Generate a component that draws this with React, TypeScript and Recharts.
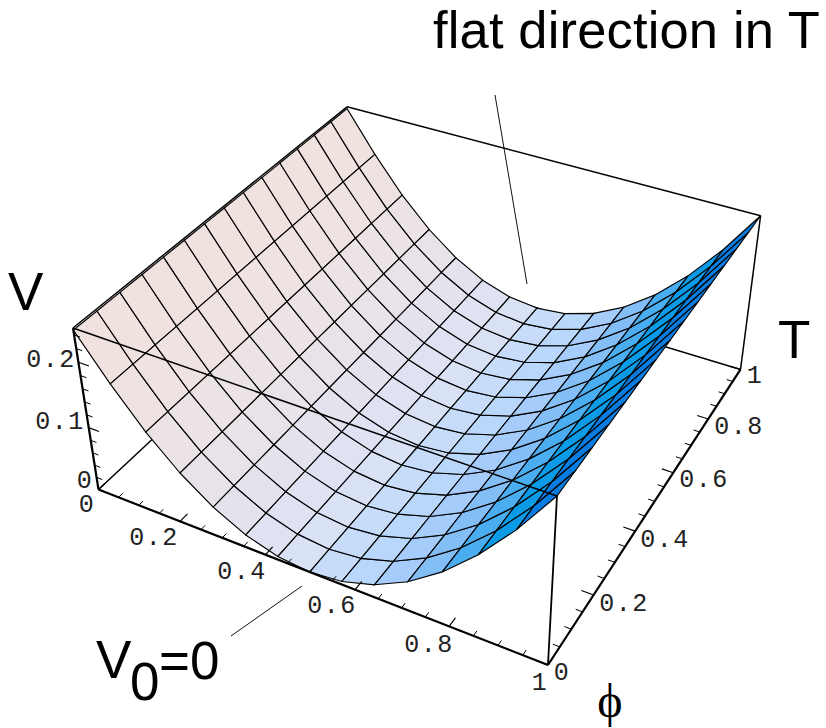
import { ScatterChart, Scatter, XAxis, YAxis } from "recharts";

const phiGrid = [0, 0.0714, 0.1429, 0.2143, 0.2857, 0.3571, 0.4286, 0.5, 0.5714, 0.6429, 0.7143, 0.7857, 0.8571, 0.9286, 1];
const tGrid = [0, 0.0714, 0.1429, 0.2143, 0.2857, 0.3571, 0.4286, 0.5, 0.5714, 0.6429, 0.7143, 0.7857, 0.8571, 0.9286, 1];
// V along phi, the same for every T
const vProfile = [0.247, 0.1837, 0.1276, 0.0816, 0.0459, 0.0204, 0.0051, 0, 0.0051, 0.0204, 0.0459, 0.0816, 0.1276, 0.1837, 0.25];
const columnColors = [
  "#f0e2df", "#eee3e1", "#ebe3e4", "#e8e3e9", "#e4e3ed", "#dfe2f2", "#d9e1f5",
  "#c6dcf8", "#b9d7fa", "#a5ccfa", "#84bef6", "#4aadf0", "#0a9ae6", "#087ce0",
];

const minorTicks = [0.05, 0.1, 0.15, 0.25, 0.3, 0.35, 0.45, 0.5, 0.55, 0.65, 0.7, 0.75, 0.85, 0.9, 0.95];
const majorTicks = [0, 0.2, 0.4, 0.6, 0.8, 1];
const vMinorTicks = [0.02, 0.04, 0.06, 0.08, 0.12, 0.14, 0.16, 0.18, 0.22, 0.24];
const vMajorTicks = [0, 0.1, 0.2];
const phiTickLabels = ["0", "0.2", "0.4", "0.6", "0.8", "1"];
const tTickLabels = ["0", "0.2", "0.4", "0.6", "0.8", "1"];
const vTickLabels = ["0", "0.1", "0.2"];

const V_MAX = 0.25;

// where the tick labels sit on the page (centre x, baseline y)
const phiLabelSpots = [[87, 512], [154, 545], [242, 579], [332, 613], [429, 652], [540, 690]];
const tLabelSpots = [[562, 680], [624, 611], [665, 547], [704, 487], [739, 434], [755, 383]];
const vLabelSpots = [[85, 488], [60, 429], [51, 367]];

// perspective of the box, fitted to its corners in the picture
const project = (phi: number, t: number, v: number) => {
  const w = v / V_MAX;
  const d = 1 - 0.1131 * phi + 0.2142 * t - 0.0692 * w;
  return {
    x: (98.5 + 387.5 * phi + 329.4 * t - 30.55 * w) / d,
    y: (489.5 + 100.3 * phi - 183 * t - 184.2 * w) / d,
  };
};

const noPoint = () => <g />;

const Segment = (
  key: string,
  from: number[],
  to: number[],
  width: number,
) => (
  <Scatter
    key={key}
    data={[project(from[0], from[1], from[2]), project(to[0], to[1], to[2])]}
    shape={noPoint}
    line={{ stroke: "#000", strokeWidth: width }}
    isAnimationActive={false}
  />
);

const cells: { key: string; color: string; corners: { x: number; y: number }[] }[] = [];
columnColors.forEach((color, i) => {
  for (let j = 0; j < tGrid.length - 1; j++) {
    cells.push({
      key: `cell-${i}-${j}`,
      color,
      corners: [
        project(phiGrid[i], tGrid[j], vProfile[i]),
        project(phiGrid[i + 1], tGrid[j], vProfile[i + 1]),
        project(phiGrid[i + 1], tGrid[j + 1], vProfile[i + 1]),
        project(phiGrid[i], tGrid[j + 1], vProfile[i]),
      ],
    });
  }
});

const toLabels = (labels: string[], spots: number[][]) =>
  labels.map((label, i) => ({ x: spots[i][0], y: spots[i][1], label }));

const tickLabels = [
  ...toLabels(phiTickLabels, phiLabelSpots),
  ...toLabels(tTickLabels, tLabelSpots),
  ...toLabels(vTickLabels, vLabelSpots),
];

const titleLabels = [
  { x: 8, y: 310, label: "V" },
  { x: 778, y: 358, label: "T" },
  { x: 96, y: 678, label: "V" },
  { x: 130, y: 700, label: "0" },
  { x: 159, y: 679, label: "=0" },
];

const TickLabel = (p: any) => (
  <text
    x={p.cx}
    y={p.cy}
    textAnchor="middle"
    fontFamily="'Liberation Mono', monospace"
    fontSize={25}
    letterSpacing={1.5}
    fill="#222"
  >
    {p.payload.label}
  </text>
);

const TitleLabel = (p: any) => (
  <text
    x={p.cx}
    y={p.cy}
    fontFamily="'Liberation Sans', sans-serif"
    fontSize={53}
    fill="#000"
  >
    {p.payload.label}
  </text>
);

const HeadLabel = (p: any) => (
  <text
    x={p.cx}
    y={p.cy}
    fontFamily="'Liberation Sans', sans-serif"
    fontSize={52.5}
    letterSpacing={0.15}
    fill="#000"
  >
    {p.payload.label}
  </text>
);

const PhiLabel = (p: any) => (
  <text
    x={p.cx}
    y={p.cy}
    textAnchor="middle"
    fontFamily="'Liberation Serif', serif"
    fontSize={48}
    fill="#000"
  >
    {p.payload.label}
  </text>
);

export default function App() {
  return (
    <div style={{ position: "absolute", left: 0, top: 0, width: 826, height: 728, background: "#fff" }}>
      <ScatterChart width={826} height={728} margin={{ top: 0, right: 0, bottom: 0, left: 0 }}>
        <XAxis type="number" dataKey="x" domain={[0, 826]} hide allowDataOverflow />
        <YAxis type="number" dataKey="y" domain={[0, 728]} reversed hide allowDataOverflow />

        {/* edges behind the surface */}
        {Segment("back-top", [0, 1, V_MAX], [1, 1, V_MAX], 1.5)}
        {Segment("back-right", [1, 1, 0], [1, 1, V_MAX], 1.5)}
        {Segment("floor-left", [0, 0, 0], [0, 1, 0], 1.5)}
        {Segment("floor-back", [0, 1, 0], [1, 1, 0], 1.5)}
        {Segment("top-left", [0, 0, V_MAX], [0, 1, V_MAX], 1.5)}

        {cells.map((c) => (
          <Scatter
            key={c.key}
            data={c.corners}
            shape={noPoint}
            line={{ fill: c.color, stroke: "#000", strokeWidth: 1.15 }}
            lineJointType="linearClosed"
            isAnimationActive={false}
          />
        ))}

        {/* edges and axes in front */}
        {Segment("top-front", [0, 0, V_MAX], [1, 0, V_MAX], 1.5)}
        {Segment("front-right", [1, 0, 0], [1, 0, V_MAX], 1.8)}
        {Segment("axis-v", [0, 0, 0], [0, 0, V_MAX], 2.2)}
        {Segment("axis-phi", [0, 0, 0], [1, 0, 0], 2.2)}
        {Segment("axis-t", [1, 0, 0], [1, 1, 0], 2.2)}

        {majorTicks.map((m) => Segment(`phi-major-${m}`, [m, 0, 0], [m, 0.025, 0], 1.2))}
        {minorTicks.map((m) => Segment(`phi-minor-${m}`, [m, 0, 0], [m, 0.014, 0], 1))}
        {majorTicks.map((m) => Segment(`t-major-${m}`, [1, m, 0], [0.975, m, 0], 1.2))}
        {minorTicks.map((m) => Segment(`t-minor-${m}`, [1, m, 0], [0.986, m, 0], 1))}
        {vMajorTicks.map((m) => Segment(`v-major-${m}`, [0, 0, m], [0.025, 0, m], 1.2))}
        {vMinorTicks.map((m) => Segment(`v-minor-${m}`, [0, 0, m], [0.014, 0, m], 1))}

        {/* leader lines */}
        <Scatter
          data={[{ x: 495, y: 95 }, { x: 527, y: 284 }]}
          shape={noPoint}
          line={{ stroke: "#111", strokeWidth: 1 }}
          isAnimationActive={false}
        />
        <Scatter
          data={[{ x: 231, y: 636 }, { x: 302, y: 586 }]}
          shape={noPoint}
          line={{ stroke: "#111", strokeWidth: 1 }}
          isAnimationActive={false}
        />

        <Scatter data={tickLabels} shape={TickLabel} isAnimationActive={false} />
        <Scatter data={titleLabels} shape={TitleLabel} isAnimationActive={false} />
        <Scatter data={[{ x: 433, y: 47.5, label: "flat direction in T" }]} shape={HeadLabel} isAnimationActive={false} />
        <Scatter data={[{ x: 610, y: 717, label: "ϕ" }]} shape={PhiLabel} isAnimationActive={false} />
      </ScatterChart>
    </div>
  );
}
